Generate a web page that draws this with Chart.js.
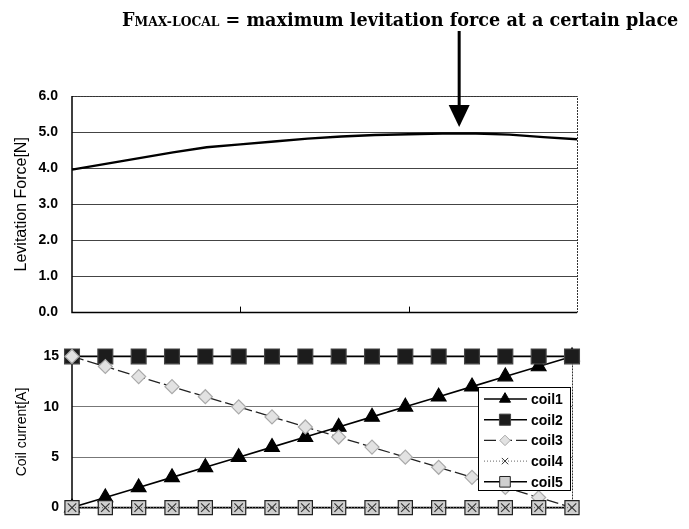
<!DOCTYPE html>
<html>
<head>
<meta charset="utf-8">
<script src="https://cdn.jsdelivr.net/npm/chart.js@4.4.0/dist/chart.umd.min.js"></script>
<style>
  body { margin: 0; background: #fff; }
  #wrap { position: relative; width: 689px; height: 529px; }
  canvas { position: absolute; left: 0; }
  #top { top: 0; }
  #bot { top: 335px; }
  #title { position: absolute; left: 122px; top: 9px; z-index: 2; white-space: nowrap; line-height: 1;
           font: bold 18px "DejaVu Serif", serif; color: #000; }
  #title .sub { font-size: 0.7em; }
</style>
</head>
<body>
<div id="wrap">
  <canvas id="top" width="689" height="335"></canvas>
  <canvas id="bot" width="689" height="194"></canvas>
  <div id="title">F<span class="sub">MAX-LOCAL</span> = maximum levitation force at a certain place</div>
</div>
<script>
// positions along the track (16 steps)
const positions = ['0','1','2','3','4','5','6','7','8','9','10','11','12','13','14','15'];

// levitation force [N]
const levitationForce = [3.96, 4.12, 4.28, 4.44, 4.58, 4.66, 4.74, 4.82, 4.88, 4.92, 4.94, 4.96, 4.96, 4.93, 4.86, 4.80];

// coil currents [A]
const coil1 = [0, 1, 2, 3, 4, 5, 6, 7, 8, 9, 10, 11, 12, 13, 14, 15];
const coil2 = [15, 15, 15, 15, 15, 15, 15, 15, 15, 15, 15, 15, 15, 15, 15, 15];
const coil3 = [15, 14, 13, 12, 11, 10, 9, 8, 7, 6, 5, 4, 3, 2, 1, 0];
const coil4 = [0, 0, 0, 0, 0, 0, 0, 0, 0, 0, 0, 0, 0, 0, 0, 0];
const coil5 = [0, 0, 0, 0, 0, 0, 0, 0, 0, 0, 0, 0, 0, 0, 0, 0];

const forceTicks = ['0.0', '1.0', '2.0', '3.0', '4.0', '5.0', '6.0'];
const currentTicks = ['0', '5', '10', '15'];
const maxAt = 11.5; // where the arrow points

// stretch the title to the width it has in the figure
const titleEl = document.getElementById('title');
const tw = titleEl.getBoundingClientRect().width;
titleEl.style.fontSize = (18 * 557 / tw).toFixed(2) + 'px';

const tickFont = { family: 'Liberation Sans', size: 14, weight: 'bold' };

// frame, inner tick marks and the arrow of the upper chart
const topDeco = {
  id: 'topDeco',
  afterDraw(chart) {
    const ctx = chart.ctx, a = chart.chartArea, x = chart.scales.x;
    ctx.save();
    ctx.strokeStyle = '#333';
    ctx.lineWidth = 1;
    ctx.setLineDash([2, 1]);
    ctx.beginPath();
    ctx.moveTo(a.left, a.top + 0.5); ctx.lineTo(a.right + 0.5, a.top + 0.5);
    ctx.lineTo(a.right + 0.5, a.bottom);
    ctx.stroke();
    ctx.setLineDash([]);
    ctx.strokeStyle = '#000';
    ctx.lineWidth = 1.5;
    ctx.beginPath();
    ctx.moveTo(a.left, a.top); ctx.lineTo(a.left, a.bottom); ctx.lineTo(a.right, a.bottom);
    ctx.stroke();
    ctx.lineWidth = 1;
    [5, 10].forEach(v => {
      const px = Math.round(x.getPixelForValue(v)) + 0.5;
      ctx.beginPath(); ctx.moveTo(px, a.bottom); ctx.lineTo(px, a.bottom - 6); ctx.stroke();
    });
    // arrow
    const ax = x.getPixelForValue(maxAt);
    const tip = chart.scales.y.getPixelForValue(5.0) - 5;
    ctx.fillStyle = '#000';
    ctx.fillRect(ax - 1.5, 31, 3, tip - 22 - 31);
    ctx.beginPath();
    ctx.moveTo(ax - 10.5, tip - 22); ctx.lineTo(ax + 10.5, tip - 22); ctx.lineTo(ax, tip);
    ctx.closePath(); ctx.fill();
    ctx.restore();
  }
};

new Chart(document.getElementById('top'), {
  type: 'line',
  data: {
    labels: positions,
    datasets: [{
      label: 'Levitation Force',
      data: levitationForce,
      borderColor: '#000',
      borderWidth: 2.4,
      pointRadius: 0,
      tension: 0
    }]
  },
  options: {
    responsive: false,
    animation: false,
    layout: { padding: { left: 0, right: 112, top: 96, bottom: 10 } },
    plugins: { legend: { display: false }, tooltip: { enabled: false } },
    scales: {
      x: { display: false, offset: false },
      y: {
        min: 0, max: 6,
        afterFit(s) { s.width = 72; },
        ticks: { stepSize: 1, padding: 14, color: '#000', font: tickFont,
                 callback: (v, i) => forceTicks[i] },
        grid: { color: '#444', lineWidth: 1, drawTicks: false },
        border: { display: false },
        title: { display: true, text: 'Levitation Force[N]', color: '#000',
                 font: { family: 'Liberation Sans', size: 16 }, padding: { top: 12, bottom: 0 } }
      }
    }
  },
  plugins: [topDeco]
});

// frame and boxed legend of the lower chart
const botDeco = {
  id: 'botDeco',
  beforeDatasetsDraw(chart) {
    const ctx = chart.ctx, a = chart.chartArea;
    ctx.save();
    ctx.strokeStyle = '#333';
    ctx.lineWidth = 1;
    ctx.setLineDash([2, 1]);
    ctx.beginPath();
    ctx.moveTo(a.right + 0.5, a.top); ctx.lineTo(a.right + 0.5, a.bottom);
    ctx.stroke();
    ctx.setLineDash([]);
    ctx.strokeStyle = '#000';
    ctx.lineWidth = 1.5;
    ctx.beginPath();
    ctx.moveTo(a.left, a.top); ctx.lineTo(a.left, a.bottom);
    ctx.stroke();
    ctx.restore();
  },
  afterDraw(chart) {
    const ctx = chart.ctx;
    const bx = 478, by = 387 - 335, bw = 92, bh = 103;
    ctx.save();
    ctx.fillStyle = '#fff';
    ctx.fillRect(bx, by, bw, bh);
    ctx.strokeStyle = '#000';
    ctx.lineWidth = 1;
    ctx.strokeRect(bx + 0.5, by + 0.5, bw, bh);
    chart.data.datasets.forEach((ds, i) => {
      const y = by + 12 + i * 20.7;
      ctx.strokeStyle = ds.borderColor;
      ctx.lineWidth = ds.borderWidth;
      ctx.setLineDash(ds.borderDash || []);
      ctx.beginPath(); ctx.moveTo(bx + 6, y); ctx.lineTo(bx + 49, y); ctx.stroke();
      ctx.setLineDash([]);
      ctx.fillStyle = ds.pointBackgroundColor;
      ctx.strokeStyle = ds.pointBorderColor;
      ctx.lineWidth = 1;
      Chart.helpers.drawPoint(ctx, { pointStyle: ds.pointStyle, radius: ds.pointRadius * 0.75, borderWidth: 1 }, bx + 27, y);
      ctx.fillStyle = '#000';
      ctx.font = 'bold 14px "Liberation Sans"';
      ctx.textBaseline = 'middle';
      ctx.fillText(ds.label, bx + 53, y + 1);
    });
    ctx.restore();
  }
};

new Chart(document.getElementById('bot'), {
  type: 'line',
  data: {
    labels: positions,
    datasets: [
      { label: 'coil1', data: coil1, order: 5, borderColor: '#000', borderWidth: 1.6,
        pointStyle: 'triangle', pointRadius: 8.5, pointBackgroundColor: '#000', pointBorderColor: '#000' },
      { label: 'coil2', data: coil2, order: 4, borderColor: '#000', borderWidth: 1.6,
        pointStyle: 'rect', pointRadius: 10.5, pointBackgroundColor: '#1c1c1c', pointBorderColor: '#444' },
      { label: 'coil3', data: coil3, order: 3, borderColor: '#222', borderWidth: 1.3, borderDash: [12, 4],
        pointStyle: 'rectRot', pointRadius: 7, pointBackgroundColor: '#e2e2e2', pointBorderColor: '#aaa' },
      { label: 'coil4', data: coil4, order: 1, borderColor: '#666', borderWidth: 1, borderDash: [1, 2],
        pointStyle: 'crossRot', pointRadius: 6, pointBackgroundColor: '#333', pointBorderColor: '#333' },
      { label: 'coil5', data: coil5, order: 2, borderColor: '#000', borderWidth: 1.6,
        pointStyle: 'rect', pointRadius: 10, pointBackgroundColor: '#cfcfcf', pointBorderColor: '#222' }
    ].map(d => Object.assign({ tension: 0, clip: false, pointBorderWidth: 1.2 }, d))
  },
  options: {
    responsive: false,
    animation: false,
    layout: { padding: { left: 0, right: 117, top: 17, bottom: 9 } },
    plugins: { legend: { display: false }, tooltip: { enabled: false } },
    scales: {
      x: { display: false, offset: false },
      y: {
        min: 0, max: 15,
        afterFit(s) { s.width = 72; },
        ticks: { stepSize: 5, padding: 13, color: '#000', font: tickFont,
                 callback: (v, i) => currentTicks[i] },
        grid: { color: ctx => (ctx.tick.value === 0 || ctx.tick.value === 15) ? 'rgba(0,0,0,0)' : '#777',
                lineWidth: 1, drawTicks: false },
        border: { display: false },
        title: { display: true, text: 'Coil current[A]', color: '#000',
                 font: { family: 'Liberation Sans', size: 14 }, padding: { top: 14, bottom: 0 } }
      }
    }
  },
  plugins: [botDeco]
});
</script>
</body>
</html>
